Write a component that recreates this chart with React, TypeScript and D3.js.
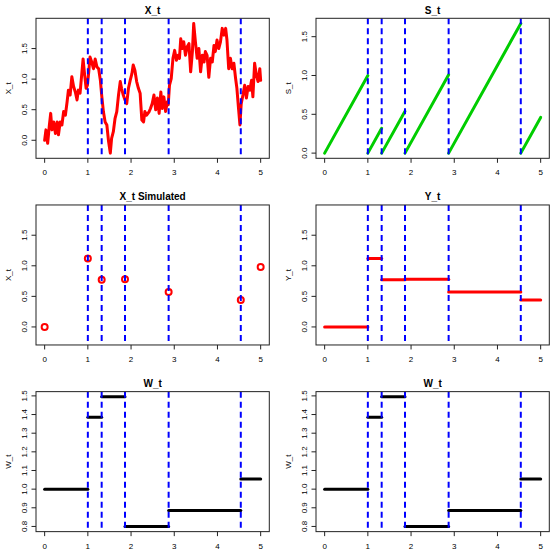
import React from 'react';
import * as d3 from 'd3';

// jump times (blue dashed lines)
const jumpTimes = [1.0, 1.32, 1.86, 2.87, 4.54];

// X_t path
const pathT = [
  0, 0.03, 0.07, 0.11, 0.14, 0.17, 0.21, 0.25, 0.29, 0.32,
  0.36, 0.4, 0.44, 0.48, 0.52, 0.55, 0.59, 0.63, 0.67, 0.71,
  0.75, 0.78, 0.82, 0.86, 0.89, 0.92, 0.96, 0.99, 1.02, 1.05,
  1.09, 1.13, 1.17, 1.21, 1.25, 1.29, 1.32, 1.36, 1.4, 1.44,
  1.48, 1.52, 1.55, 1.59, 1.63, 1.67, 1.71, 1.75, 1.78, 1.82,
  1.86, 1.9, 1.94, 1.98, 2.02, 2.05, 2.09, 2.13, 2.17, 2.21,
  2.25, 2.29, 2.32, 2.36,
  2.42, 2.45, 2.49, 2.53, 2.57, 2.61, 2.65, 2.69, 2.72, 2.76,
  2.8, 2.84, 2.86, 2.89, 2.93, 2.97, 3.01, 3.05, 3.09, 3.12,
  3.15, 3.19, 3.22, 3.26, 3.3, 3.34, 3.38, 3.42, 3.45, 3.49,
  3.53, 3.57, 3.61, 3.65, 3.69, 3.72, 3.76, 3.8, 3.84, 3.88,
  3.92, 3.95, 3.99, 4.03, 4.07, 4.11, 4.15, 4.19, 4.22, 4.26,
  4.3, 4.34, 4.38, 4.42, 4.45, 4.49, 4.52, 4.55, 4.59, 4.63,
  4.67, 4.71, 4.75, 4.79, 4.82, 4.86, 4.9, 4.94, 4.98, 5.0,
];
const pathX = [
  0.0, 0.17, -0.05, 0.25, 0.44, 0.17, 0.3, 0.11, 0.3, 0.09,
  0.3, 0.25, 0.47, 0.41, 0.63, 0.82, 0.74, 1.04, 0.88, 0.79,
  0.66, 0.82, 0.77, 1.09, 1.33, 1.11, 0.85, 0.9, 1.11, 1.36,
  1.28, 1.17, 1.33, 1.2, 1.17, 0.98, 0.74, 0.47, 0.3, 0.25,
  -0.02, -0.21, 0.03, 0.14, 0.36, 0.47, 0.74, 0.96, 0.85, 0.74,
  0.66, 0.6, 0.85, 0.98, 1.09, 1.23, 1.14, 0.96, 0.85, 0.77,
  0.33, 0.3, 0.47, 0.41,
  0.47, 0.52, 0.6, 0.74, 0.5, 0.69, 0.44, 0.79, 0.52, 0.71,
  0.47, 0.63, 0.58, 0.9, 1.01, 1.34, 1.47, 1.31, 1.39, 1.34,
  1.66, 1.5, 1.61, 1.39, 1.53, 1.58, 1.12, 1.45, 1.91, 1.61,
  1.34, 1.5, 1.12, 1.39, 1.28, 1.45, 1.39, 1.03, 1.34, 1.28,
  1.55, 1.45, 1.64, 1.5, 1.61, 1.83, 1.72, 1.83, 1.64, 1.17,
  1.34, 1.17, 1.26, 1.01, 0.85, 0.5, 0.25, 0.6, 0.74, 0.9,
  0.69, 0.88, 0.82, 0.98, 0.71, 1.26, 1.07, 0.96, 1.17, 0.98,
];

// simulated values at the jump times (+ endpoints)
const simT = [0, 1.0, 1.32, 1.86, 2.87, 4.54, 5];
const simX = [0, 1.12, 0.77, 0.78, 0.57, 0.44, 0.98];

// S_t: time since last jump, one segment per interval
const sStart = [0, 1.0, 1.32, 1.86, 2.87, 4.54];
const sEnd = [1.0, 1.32, 1.86, 2.87, 4.54, 5];
const sPeak = [1.0, 0.32, 0.54, 1.01, 1.67, 0.46];

// W_t levels per interval
const wVals = [1.0, 1.385, 1.495, 0.8, 0.885, 1.055];

const xTicks = [0, 1, 2, 3, 4, 5];
const xyTicks = [0, 0.5, 1, 1.5];
const wTicks = [0.8, 0.9, 1.0, 1.1, 1.2, 1.3, 1.4, 1.5];

const W = 560;
const PW = 280;
const PH = 560 / 3;
const M = { left: 36, right: 269.3, top: 18.3, bottom: 158.3 };
const FONT = '"Liberation Sans", Arial, Helvetica, sans-serif';

const pad = (lo, hi) => {
  const d = (hi - lo) * 0.04;
  return [lo - d, hi + d];
};

const xScale = d3.scaleLinear().domain([-0.2, 5.2]).range([M.left, M.right]);
const xDom = pad(d3.min(pathX.concat(simX)), d3.max(pathX.concat(simX)));
const sDom = pad(0, d3.max(sPeak));
const wDom = pad(d3.min(wVals), d3.max(wVals));

function Panel({ id, col, row, title, ylab, yDomain, yTicks, children }) {
  const y = d3.scaleLinear().domain(yDomain).range([M.bottom, M.top]);
  const x = xScale;
  const cx = (M.left + M.right) / 2;
  const cy = (M.top + M.bottom) / 2;
  return (
    <g transform={`translate(${col * PW},${row * PH})`} fontFamily={FONT}>
      <defs>
        <clipPath id={`clip-${id}`}>
          <rect x={M.left} y={M.top} width={M.right - M.left} height={M.bottom - M.top} />
        </clipPath>
      </defs>
      <g clipPath={`url(#clip-${id})`}>
        {children(x, y)}
        {jumpTimes.map((t) => (
          <line key={t} x1={x(t)} x2={x(t)} y1={M.top} y2={M.bottom}
            stroke="#0000FF" strokeWidth={2} strokeDasharray="6,4" />
        ))}
      </g>
      <rect x={M.left} y={M.top} width={M.right - M.left} height={M.bottom - M.top}
        fill="none" stroke="#222" strokeWidth={1} />
      {xTicks.map((t) => (
        <g key={t}>
          <line x1={x(t)} x2={x(t)} y1={M.bottom} y2={M.bottom + 4.5} stroke="#222" />
          <text x={x(t)} y={M.bottom + 17} fontSize={8} textAnchor="middle">{t}</text>
        </g>
      ))}
      {yTicks.map((v) => (
        <g key={v}>
          <line x1={M.left - 4.5} x2={M.left} y1={y(v)} y2={y(v)} stroke="#222" />
          <text transform={`translate(${M.left - 9.5},${y(v)}) rotate(-90)`}
            fontSize={8} textAnchor="middle">{v.toFixed(1)}</text>
        </g>
      ))}
      <text transform={`translate(11,${cy}) rotate(-90)`} fontSize={8} textAnchor="middle">{ylab}</text>
      <text x={cx} y={13.5} fontSize={10} fontWeight="bold" textAnchor="middle">{title}</text>
    </g>
  );
}

const segs = (starts, ends, vals) => starts.map((s, i) => ({ s, e: ends[i], v: vals[i] }));

export default function App() {
  const pts = pathT.map((t, i) => [t, pathX[i]]);
  const ySegs = segs(simT.slice(0, -1), simT.slice(1), simX.slice(0, -1));
  const wSegs = segs(simT.slice(0, -1), simT.slice(1), wVals);

  return (
    <svg width={W} height={W} style={{ position: 'absolute', left: 0, top: 0, background: '#fff' }}>
      <Panel id="xt" col={0} row={0} title="X_t" ylab="X_t" yDomain={xDom} yTicks={xyTicks}>
        {(x, y) => (
          <path d={d3.line().x((d) => x(d[0])).y((d) => y(d[1]))(pts)}
            fill="none" stroke="#FF0000" strokeWidth={3} strokeLinejoin="round" strokeLinecap="round" />
        )}
      </Panel>
      <Panel id="st" col={1} row={0} title="S_t" ylab="S_t" yDomain={sDom} yTicks={xyTicks}>
        {(x, y) =>
          sStart.map((s, i) => (
            <line key={i} x1={x(s)} y1={y(0)} x2={x(sEnd[i])} y2={y(sPeak[i])}
              stroke="#00CD00" strokeWidth={3} strokeLinecap="round" />
          ))
        }
      </Panel>
      <Panel id="xs" col={0} row={1} title="X_t Simulated" ylab="X_t" yDomain={xDom} yTicks={xyTicks}>
        {(x, y) =>
          simT.map((t, i) => (
            <circle key={i} cx={x(t)} cy={y(simX[i])} r={3} fill="none" stroke="#FF0000" strokeWidth={2} />
          ))
        }
      </Panel>
      <Panel id="yt" col={1} row={1} title="Y_t" ylab="Y_t" yDomain={xDom} yTicks={xyTicks}>
        {(x, y) =>
          ySegs.map((d, i) => (
            <line key={i} x1={x(d.s)} x2={x(d.e)} y1={y(d.v)} y2={y(d.v)}
              stroke="#FF0000" strokeWidth={3} strokeLinecap="round" />
          ))
        }
      </Panel>
      {[0, 1].map((c) => (
        <Panel key={c} id={`wt${c}`} col={c} row={2} title="W_t" ylab="W_t" yDomain={wDom} yTicks={wTicks}>
          {(x, y) =>
            wSegs.map((d, i) => (
              <line key={i} x1={x(d.s)} x2={x(d.e)} y1={y(d.v)} y2={y(d.v)}
                stroke="#000" strokeWidth={3} strokeLinecap="round" />
            ))
          }
        </Panel>
      ))}
    </svg>
  );
}
